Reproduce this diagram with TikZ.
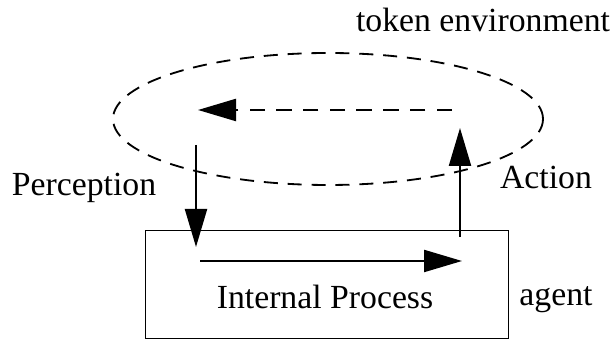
\documentclass[tikz,border=0pt]{standalone}
\usepackage{fontspec}
\setmainfont{Liberation Serif}
\usetikzlibrary{arrows.meta,shapes.geometric}

\tikzset{
  bigarrow/.style={line width=1.6pt, -{Triangle[length=0.95cm,width=0.55cm]}},
  envline/.style={line width=1.3pt, dash pattern=on 10pt off 7pt},
  lbl/.style={font=\fontsize{24}{28}\selectfont, inner sep=0pt}
}

\begin{document}
\begin{tikzpicture}
\useasboundingbox (0,0) rectangle (15.325,8.5);
% environment loop
\node[draw, envline, ellipse, minimum width=10.75cm, minimum height=3.3cm] (env) at (8.2,5.525) {};
\node[lbl] (envlabel) at (12.075,8.0) {token environment};
% agent box
\node[draw, line width=0.7pt, rectangle, minimum width=9.075cm, minimum height=2.7cm, anchor=south west] (agentbox) at (3.625,0.025) {};
\node[lbl] (internal) at (8.125,1.075) {Internal Process};
\node[lbl] (agentlabel) at (13.9,1.0) {agent};
% arrow end points
\coordinate (pin) at (4.9,4.875);
\coordinate (pout) at (4.9,2.325);
\coordinate (ain) at (11.5,2.575);
\coordinate (aout) at (11.5,5.3);
\coordinate (iin) at (5.0,1.975);
\coordinate (iout) at (11.55,1.975);
\coordinate (ein) at (11.3,5.75);
\coordinate (eout) at (4.95,5.75);
% arrows
\draw[bigarrow] (pin) -- (pout);
\draw[bigarrow] (iin) -- (iout);
\draw[bigarrow] (ain) -- (aout);
\draw[bigarrow, dash pattern=on 11pt off 8pt] (ein) -- (eout);
\node[lbl] (perception) at (2.1,3.8) {Perception};
\node[lbl] (action) at (13.65,4.07) {Action};
\end{tikzpicture}
\end{document}
